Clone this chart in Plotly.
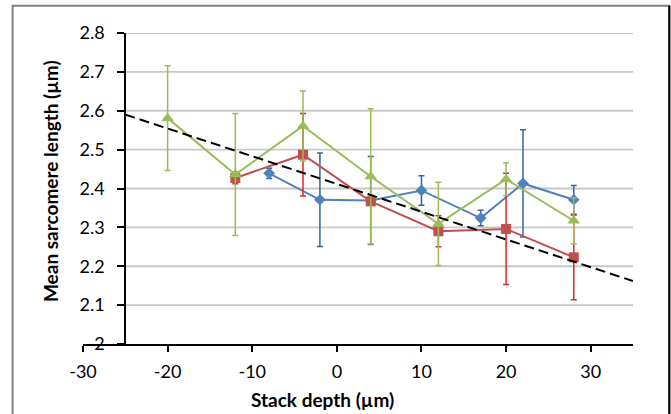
import plotly.graph_objects as go

# Mean sarcomere length versus stack depth, three image stacks
blue_x = [-8, -2, 4, 10, 17, 22, 28]
blue_y = [2.439, 2.371, 2.369, 2.395, 2.324, 2.413, 2.371]
blue_err = [0.013, 0.120, 0.113, 0.038, 0.020, 0.138, 0.037]

red_x = [-12, -4, 4, 12, 20, 28]
red_y = [2.427, 2.487, 2.367, 2.290, 2.296, 2.223]
red_err = [0.015, 0.106, 0.010, 0.040, 0.143, 0.109]

green_x = [-20, -12, -4, 4, 12, 20, 28]
green_y = [2.581, 2.436, 2.561, 2.431, 2.309, 2.424, 2.317]
green_err = [0.135, 0.157, 0.090, 0.174, 0.107, 0.042, 0.059]

# linear trend across all stacks
trend_x = [-25, 35]
trend_y = [2.590, 2.162]

x_ticks = [-30, -20, -10, 0, 10, 20, 30]
x_tick_text = ["-30", "-20", "-10", "0", "10", "20", "30"]
y_ticks = [2.0, 2.1, 2.2, 2.3, 2.4, 2.5, 2.6, 2.7, 2.8]
y_tick_text = ["2", "2.1", "2.2", "2.3", "2.4", "2.5", "2.6", "2.7", "2.8"]
x_range = [-30, 35]
y_range = [2.0, 2.8]
y_axis_at = -25

FONT = "Lato"
TICK_SIZE = 18
TITLE_SIZE = 19

fig = go.Figure()

series = [
    (blue_x, blue_y, blue_err, "#4F81BD", "#3A64A0", "diamond", 9),
    (red_x, red_y, red_err, "#C0504D", "#E0262B", "square", 10),
    (green_x, green_y, green_err, "#9BBB59", "#9BBB59", "triangle-up", 11),
]
for xs, ys, es, col, ecol, sym, size in series:
    fig.add_trace(go.Scatter(
        x=xs, y=ys, mode="lines+markers",
        line=dict(color=col, width=2),
        marker=dict(symbol=sym, size=size, color=col),
        error_y=dict(type="data", array=es, visible=True,
                     color=ecol, thickness=1.5, width=3),
        showlegend=False,
    ))

fig.add_trace(go.Scatter(
    x=trend_x, y=trend_y, mode="lines",
    line=dict(color="black", width=2, dash="10px,5px"),
    showlegend=False,
))

# horizontal gridlines start at the vertical axis
shapes = []
for v in y_ticks[1:]:
    shapes.append(dict(type="line", xref="x", yref="y", layer="below",
                       x0=y_axis_at, x1=x_range[1], y0=v, y1=v,
                       line=dict(color="#C8C8C8", width=1.8)))
# chart frame
shapes.append(dict(type="rect", xref="paper", yref="paper",
                   x0=-0.128, x1=1.066, y0=-0.3, y1=1.088,
                   line=dict(color="#808080", width=2)))
shapes.append(dict(type="line", xref="paper", yref="paper",
                   x0=1.066, x1=1.066, y0=-0.3, y1=1.088,
                   line=dict(color="black", width=2)))

fig.update_layout(
    width=671, height=414,
    margin=dict(l=83, r=38, t=33, b=70),
    paper_bgcolor="white", plot_bgcolor="white",
    font=dict(family=FONT, size=TICK_SIZE, color="black"),
    shapes=shapes,
    xaxis=dict(range=x_range, tickvals=x_ticks, ticktext=x_tick_text,
               showgrid=False, zeroline=False,
               showline=True, linecolor="black", linewidth=2,
               ticks="outside", ticklen=6, tickwidth=2, tickcolor="black",
               ticklabelstandoff=4, tickfont=dict(family=FONT, size=TICK_SIZE)),
    yaxis=dict(range=y_range, tickvals=y_ticks, ticktext=y_tick_text,
               showgrid=False, zeroline=False,
               anchor="free", position=(y_axis_at - x_range[0]) / (x_range[1] - x_range[0]),
               showline=True, linecolor="black", linewidth=2,
               ticks="outside", ticklen=7, tickwidth=2, tickcolor="black",
               ticklabelstandoff=9, tickfont=dict(family=FONT, size=TICK_SIZE)),
    annotations=[
        dict(text="<b>Stack depth (µm)</b>", xref="paper", yref="paper",
             x=0.436, y=-0.18, xanchor="center", yanchor="middle",
             showarrow=False, font=dict(family=FONT, size=TITLE_SIZE)),
        dict(text="<b>Mean sarcomere length (µm)</b>", xref="paper", yref="paper",
             x=-0.06, y=0.524, xanchor="center", yanchor="middle", textangle=-90,
             showarrow=False, font=dict(family=FONT, size=TITLE_SIZE)),
    ],
)

fig.write_html("out.html")
